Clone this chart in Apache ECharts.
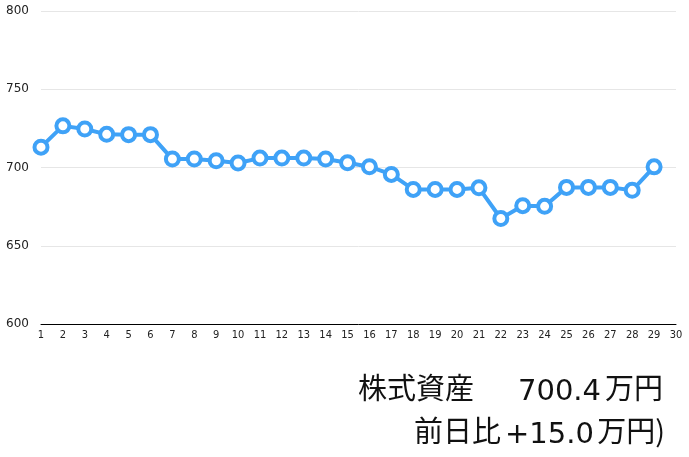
<!DOCTYPE html>
<html><head><meta charset="utf-8">
<script src="https://cdn.jsdelivr.net/npm/echarts@6/dist/echarts.min.js"></script>
<style>html,body{margin:0;padding:0;background:#fff}#c{width:689px;height:457px}</style>
</head><body><div id="c"></div>
<script>
const days = ['1','2','3','4','5','6','7','8','9','10','11','12','13','14','15','16','17','18','19','20','21','22','23','24','25','26','27','28','29','30'];
const assets = [713,726.6,724.6,721.2,721,721,705.4,705.4,704.3,702.9,706,706,706,705.4,703,700.5,695.6,686,686,686,687,667.4,675.6,675.2,687.3,687.3,687.3,685.4,700.4];
const yTicks = [600,650,700,750,800];
const label1 = '株式資産', value1 = '700.4', unit1 = '万円';
const label2 = '前日比', value2 = '+15.0', unit2 = '万円)';

const cjk = {fontSize:29,fontFamily:'Noto Sans CJK JP',fill:'#111',verticalAlign:'middle'};
const num = {fontSize:29,fontFamily:'DejaVu Sans',fill:'#111',verticalAlign:'middle'};
function txt(text, x, y, base, align){
  return {type:'text',x:x,y:y,style:Object.assign({},base,{text:text,align:align||'left'})};
}
const chart = echarts.init(document.getElementById('c'));
chart.setOption({
  animation:false,
  grid:{left:41,right:13,top:11,bottom:133},
  xAxis:{type:'category',data:days,boundaryGap:false,
    axisLine:{lineStyle:{color:'#000',width:1}},axisTick:{show:false},
    axisLabel:{color:'#222',fontSize:11,margin:6,interval:0,fontFamily:'Liberation Sans Narrow, DejaVu Sans Condensed, sans-serif'},
    splitLine:{show:false}},
  yAxis:{type:'value',min:yTicks[0],max:yTicks[yTicks.length-1],interval:50,
    axisLine:{show:false},axisTick:{show:false},
    axisLabel:{color:'#222',fontSize:12,margin:12,fontFamily:'DejaVu Sans, sans-serif'},
    splitLine:{lineStyle:{color:'#e6e6e6',width:1}}},
  series:[{type:'line',data:assets,symbol:'circle',symbolSize:13,
    lineStyle:{color:'#3fa2f7',width:4},
    itemStyle:{color:'#fff',borderColor:'#3fa2f7',borderWidth:4}}],
  graphic:[
    txt(label1,358,388,cjk),
    txt(value1,518,392,num),
    txt(unit1,663,388,cjk,'right'),
    txt(label2,414,431,cjk),
    txt(value2,505,435,num),
    txt(unit2,665,431,cjk,'right')
  ]
});
</script></body></html>
